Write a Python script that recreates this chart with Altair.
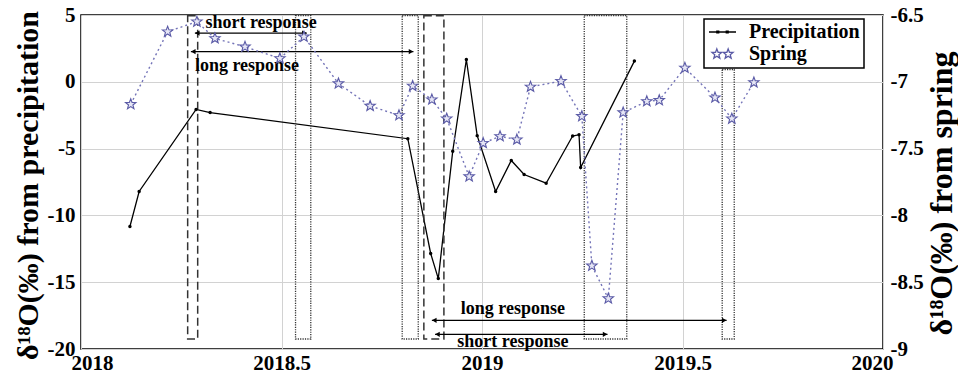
import math
import altair as alt
import pandas as pd

FONT = "Liberation Serif"

# ---------------- data ----------------
precip_x = [2018.122, 2018.145, 2018.287, 2018.322, 2018.815, 2018.872, 2018.891,
            2018.927, 2018.961, 2018.988, 2019.034, 2019.073, 2019.105, 2019.160,
            2019.226, 2019.242, 2019.246, 2019.380]
precip_y = [-10.83, -8.21, -2.07, -2.3, -4.26, -12.85, -14.73,
            -5.2, 1.67, -4.03, -8.21, -5.89, -6.94, -7.59,
            -4.06, -3.96, -6.41, 1.55]

spring_x = [2018.124, 2018.216, 2018.289, 2018.334, 2018.409, 2018.496, 2018.556,
            2018.642, 2018.721, 2018.793, 2018.827, 2018.875, 2018.912, 2018.968,
            2019.003, 2019.045, 2019.087, 2019.121, 2019.197, 2019.249, 2019.274,
            2019.315, 2019.352, 2019.411, 2019.442, 2019.506, 2019.581, 2019.623,
            2019.678]
spring_y = [-7.168, -6.625, -6.55, -6.675, -6.738, -6.825, -6.663,
            -7.013, -7.181, -7.251, -7.031, -7.133, -7.276, -7.709,
            -7.459, -7.408, -7.433, -7.038, -6.995, -7.258, -8.377,
            -8.622, -7.23, -7.146, -7.138, -6.896, -7.118, -7.276,
            -7.005]

# response windows (dashed = precipitation events, dotted = spring responses)
dashed_x1 = [2018.266, 2018.855]
dashed_x2 = [2018.291, 2018.905]
dashed_top = [4.95, 4.95]
dashed_bottom = [-19.25, -19.25]

dotted_x1 = [2018.535, 2018.801, 2019.255, 2019.599]
dotted_x2 = [2018.573, 2018.841, 2019.361, 2019.629]
dotted_top = [4.95, 4.95, 4.95, 0.92]
dotted_bottom = [-19.25, -19.25, -19.25, -19.25]

# annotation arrows and their labels
arrow_label = ["short response", "long response", "long response", "short response"]
arrow_x1 = [2018.284, 2018.274, 2018.875, 2018.883]
arrow_x2 = [2018.563, 2018.829, 2019.610, 2019.313]
arrow_y = [3.65, 2.26, -17.85, -18.9]
label_x = [2018.449, 2018.414, 2019.077, 2019.077]
label_y = [4.0, 0.8, -17.4, -19.85]

series_names = ["Precipitation", "Spring"]
x_ticks = [2018, 2018.5, 2019, 2019.5, 2020]
left_ticks = [5, 0, -5, -10, -15, -20]
right_ticks = [-6.5, -7, -7.5, -8, -8.5, -9]

# ---------------- styling ----------------
SPRING_STROKE = "#5a5aa6"
SPRING_LINE = "#7474b8"
SPRING_FILL = "#e6e6f5"

XS = alt.Scale(domain=[2018, 2020], nice=False, zero=False)
YL = alt.Scale(domain=[-20, 5], nice=False, zero=False)
YR = alt.Scale(domain=[-9, -6.5], nice=False, zero=False)


def star_path(cx, R, r):
    pts = []
    for k in range(10):
        a = -math.pi / 2 + k * math.pi / 5
        rad = R if k % 2 == 0 else r
        pts.append((cx + rad * math.cos(a), rad * math.sin(a)))
    return "M" + "L".join(f"{px:.3f},{py:.3f}" for px, py in pts) + "Z"


STAR = star_path(0, 1, 0.42)
precip_symbol = "M-1,0L1,0M-0.42,-0.07h0.14v0.14h-0.14ZM0.28,-0.07h0.14v0.14h-0.14Z"
spring_symbol = star_path(-0.42, 0.38, 0.16) + star_path(0.42, 0.38, 0.16)

precip_df = pd.DataFrame({"x": precip_x, "y": precip_y})
spring_df = pd.DataFrame({"x": spring_x, "y": spring_y})
dashed_df = pd.DataFrame({"x": dashed_x1, "x2": dashed_x2, "y": dashed_top, "y2": dashed_bottom})
dotted_df = pd.DataFrame({"x": dotted_x1, "x2": dotted_x2, "y": dotted_top, "y2": dotted_bottom})
arrow_df = pd.DataFrame({"label": arrow_label, "x": arrow_x1, "x2": arrow_x2, "y": arrow_y})
text_df = pd.DataFrame({"label": arrow_label, "x": label_x, "y": label_y})
headl_df = pd.DataFrame({"x": [v + 0.006 for v in arrow_x1], "y": arrow_y})
headr_df = pd.DataFrame({"x": [v - 0.006 for v in arrow_x2], "y": arrow_y})
legend_df = pd.DataFrame({"series": series_names, "x": [2030, 2030], "y": [0, 0]})

# ---------------- axes (identical objects on every layer, so they merge) ----------------
LABEL_EXPR = "toString(datum.value)"
x_axis = alt.Axis(values=x_ticks, grid=True, ticks=False, domain=False, title=None,
                  labelPadding=3, labelExpr=LABEL_EXPR,
                  labelFlush=True, labelFlushOffset=10)
yl_axis = alt.Axis(values=left_ticks, grid=True, ticks=False, domain=False,
                   title="δ¹⁸O(‰) from precipitation", labelPadding=6,
                   labelExpr=LABEL_EXPR, titleFontSize=30,
                   titleAngle=270, titleX=-53, titleY=170,
                   titleAlign="center", titleBaseline="middle")
yr_axis = alt.Axis(values=right_ticks, orient="right", grid=False, ticks=False, domain=False,
                   title="δ¹⁸O(‰) from spring", labelPadding=7,
                   labelExpr=LABEL_EXPR, titleFontSize=32,
                   titleAngle=270, titleX=58, titleY=178,
                   titleAlign="center", titleBaseline="middle")

XL = alt.X("x:Q", scale=XS, axis=x_axis)
YLc = alt.Y("y:Q", scale=YL, axis=yl_axis)
YRc = alt.Y("y:Q", scale=YR, axis=yr_axis)

# ---------------- left (precipitation) layer ----------------
precip_line = alt.Chart(precip_df).mark_line(color="black", strokeWidth=1.3).encode(x=XL, y=YLc)
precip_pts = alt.Chart(precip_df).mark_circle(color="black", size=12, opacity=1).encode(x=XL, y=YLc)

dashed_boxes = alt.Chart(dashed_df).mark_rect(
    fillOpacity=0, stroke="#333333", strokeWidth=1.5, strokeDash=[8, 4]
).encode(x=XL, x2="x2:Q", y=YLc, y2="y2:Q")
dotted_boxes = alt.Chart(dotted_df).mark_rect(
    fillOpacity=0, stroke="#333333", strokeWidth=1.3, strokeDash=[1.2, 1.2]
).encode(x=XL, x2="x2:Q", y=YLc, y2="y2:Q")

arrow_lines = alt.Chart(arrow_df).mark_rule(color="black", strokeWidth=1.2).encode(
    x=XL, x2="x2:Q", y=YLc)
head_left = alt.Chart(headl_df).mark_point(shape="triangle-left", filled=True, color="black",
                                           size=28, opacity=1).encode(x=XL, y=YLc)
head_right = alt.Chart(headr_df).mark_point(shape="triangle-right", filled=True, color="black",
                                            size=28, opacity=1).encode(x=XL, y=YLc)
arrow_text = alt.Chart(text_df).mark_text(
    font=FONT, fontWeight="bold", fontSize=18, color="black",
    align="center", baseline="alphabetic"
).encode(x=XL, y=YLc, text="label:N")

legend_props = dict(orient="none", legendX=623, legendY=4, title=None,
                    symbolSize=729, labelFont=FONT, labelFontSize=20,
                    labelFontWeight="bold", labelColor="black", labelOffset=12,
                    padding=4, rowPadding=2, clipHeight=18,
                    strokeColor="black", fillColor="white",
                    symbolStrokeWidth=1.3)
legend_layer = alt.Chart(legend_df).mark_point(clip=True, filled=False, opacity=1).encode(
    x=XL, y=YLc,
    color=alt.Color("series:N", scale=alt.Scale(domain=series_names,
                                                range=["black", SPRING_STROKE]),
                    legend=alt.Legend(**legend_props)),
    shape=alt.Shape("series:N", scale=alt.Scale(domain=series_names,
                                                range=[precip_symbol, spring_symbol]),
                    legend=alt.Legend(**legend_props)),
)

left = alt.layer(precip_line, dashed_boxes, dotted_boxes, precip_pts,
                 arrow_lines, head_left, head_right, arrow_text, legend_layer)

# ---------------- right (spring) layer ----------------
spring_line = alt.Chart(spring_df).mark_line(
    color=SPRING_LINE, strokeWidth=1.4, strokeDash=[2, 3]
).encode(x=XL, y=YRc)
spring_pts = alt.Chart(spring_df).mark_point(
    shape=STAR, size=120, filled=True, fill=SPRING_FILL, stroke=SPRING_STROKE,
    strokeWidth=1.1, opacity=1
).encode(x=XL, y=YRc)
right = alt.layer(spring_line, spring_pts)

chart = alt.layer(left, right).resolve_scale(y="independent").properties(
    width=958, height=373,
    autosize=alt.AutoSizeParams(type="fit", contains="padding"),
    padding={"left": 12, "top": 4, "right": 1, "bottom": 0},
).configure_view(
    stroke="black", strokeWidth=1.5
).configure_axis(
    labelFont=FONT, labelFontSize=21, labelFontWeight="bold", labelColor="black",
    titleFont=FONT, titleFontSize=32, titleFontWeight="bold", titleColor="black",
    gridColor="#d2d2d2", gridWidth=1,
).configure_legend(
    strokeWidth=1.5
)

chart.save("out.html", embed_options={"renderer": "svg", "actions": False})
